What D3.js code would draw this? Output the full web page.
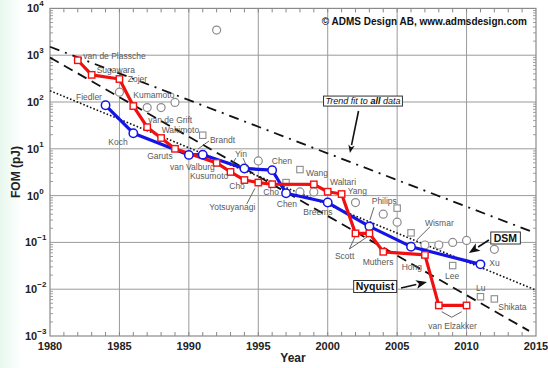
<!DOCTYPE html>
<html>
<head>
<meta charset="utf-8">
<script src="https://cdn.jsdelivr.net/npm/d3@7"></script>
<style>
  body { margin: 0; background: #fff; }
  svg { display: block; font-family: "Liberation Sans", Arial, Helvetica, sans-serif; }
</style>
</head>
<body>
<div id="chart"></div>
<script>
// ---- data (year, FOM in pJ) ----
var nyquistYears = [1982, 1983, 1985, 1986, 1987, 1988, 1989, 1992, 1993, 1994, 1995, 1996, 1999, 2000, 2001, 2002, 2003, 2004, 2007, 2008, 2010];
var nyquistFom   = [780, 380, 310, 82, 29, 17, 10, 5.0, 3.2, 2.15, 1.9, 1.75, 1.74, 1.21, 1.08, 0.156, 0.156, 0.063, 0.054, 0.0045, 0.0045];

var dsmYears = [1984, 1986, 1990, 1991, 1994, 1996, 1997, 2000, 2003, 2006, 2011];
var dsmFom   = [85, 21.5, 7.4, 7.5, 3.8, 3.5, 1.12, 0.71, 0.22, 0.081, 0.034];

var otherCircleYears = [1985, 1987, 1988, 1989, 1992, 1995, 1998, 1999, 2002, 2004, 2005, 2007, 2008, 2009, 2010, 2012];
var otherCircleFom   = [162, 76, 76, 98, 3450, 5.5, 1.2, 1.2, 0.71, 0.40, 0.27, 0.088, 0.088, 0.10, 0.11, 0.071];

var otherSquareYears = [1991, 1997, 1998, 2005, 2006, 2009, 2011, 2012];
var otherSquareFom   = [19.5, 1.9, 3.6, 0.54, 0.16, 0.032, 0.0069, 0.0062];

// trend lines: [year, FOM] end points
var trendAll     = [[1980, Math.pow(10, 3.18)], [2014.6, Math.pow(10, -0.76)]];
var trendNyquist = [[1980, Math.pow(10, 2.95)], [2014.5, Math.pow(10, -2.89)]];
var trendDsm     = [[1980, Math.pow(10, 2.24)], [2015, Math.pow(10, -2.02)]];

var xTicks = [1980, 1985, 1990, 1995, 2000, 2005, 2010, 2015];
var yExps  = [-3, -2, -1, 0, 1, 2, 3, 4];

// labels: [text, year, log10(FOM)] (baseline-left)
var labels = [
  ["van de Plassche", 1982.40, 2.925], ["Sugawara", 1983.36, 2.62], ["Zojer", 1985.60, 2.427],
  ["Fiedler", 1981.87, 2.049], ["Kumamoto", 1986.0, 2.085], ["van de Grift", 1987.08, 1.551],
  ["Wakimoto", 1988.04, 1.338], ["Koch", 1984.2, 1.071], ["Garuts", 1987.0, 0.788],
  ["van Valburg", 1988.64, 0.553], ["Kusumoto", 1990.08, 0.361], ["Brandt", 1991.52, 1.124],
  ["Yin", 1993.32, 0.825], ["Chen", 1995.97, 0.675], ["Wang", 1998.44, 0.412],
  ["Waltari", 2000.16, 0.22], ["Yang", 2001.44, 0.041], ["Cho", 1992.91, 0.141],
  ["Cho", 1995.36, 0.006], ["Yotsuyanagi", 1991.47, -0.314], ["Chen", 1996.33, -0.244],
  ["Breems", 1998.24, -0.408], ["Philips", 2003.17, -0.173], ["Wismar", 2007.0, -0.643],
  ["Scott", 2000.52, -1.348], ["Muthers", 2002.52, -1.476], ["Hong", 2005.33, -1.583],
  ["Lee", 2008.45, -1.782], ["Xu", 2011.64, -1.498], ["Lu", 2010.68, -2.045],
  ["Shikata", 2012.28, -2.451], ["van Elzakker", 2007.24, -2.85]
];

// leader lines: polylines of [year, log10(FOM)]
var leaders = [
  [[1990.66, 0.996], [1991.45, 1.167]],
  [[1993.39, 0.803], [1993.03, 0.632]],
  [[1993.90, 0.803], [1994.19, 0.611]],
  [[1994.17, -0.179], [1994.76, 0.156]],
  [[2003.04, -0.521], [2003.33, -0.25]],
  [[2007.37, -0.665], [2006.41, -0.949]],
  [[2001.96, -0.885], [2001.56, -1.141], [2002.83, -0.885]],
  [[2008.21, -2.481], [2008.93, -2.6], [2009.65, -2.481]]
];

// arrows: [tail, head] in [year, log10(FOM)], head length
var arrows = [
  [[2002.22, 1.808], [2001.60, 0.91], 8],
  [[2011.61, -0.949], [2010.17, -1.226], 11],
  [[2005.28, -1.974], [2007.15, -1.846], 11]
];

var W = 548, H = 368;
var margin = { top: 8.4, right: 12, bottom: 32, left: 50 };
var width = 486, height = 327.6;

var svg = d3.select("#chart").append("svg")
  .attr("width", W).attr("height", H);

// faint tint on the left edge like the source scan
var grad = svg.append("defs").append("linearGradient").attr("id", "edge");
grad.append("stop").attr("offset", "0%").attr("stop-color", "#e8f8ee");
grad.append("stop").attr("offset", "100%").attr("stop-color", "#ffffff");
svg.append("rect").attr("x", 0).attr("y", 0).attr("width", 22).attr("height", H).attr("fill", "url(#edge)");

var g = svg.append("g").attr("transform", "translate(" + margin.left + "," + margin.top + ")");

var x = d3.scaleLinear().domain([1980, 2015]).range([0, width]);
var y = d3.scaleLog().domain([1e-3, 1e4]).range([height, 0]);
var ye = function (e) { return y(Math.pow(10, e)); };

// grid
g.selectAll(".vgrid").data(xTicks.slice(1, -1)).enter().append("line")
  .attr("x1", x).attr("x2", x).attr("y1", 0).attr("y2", height)
  .attr("stroke", "#9a9a9a").attr("stroke-width", 1);
g.selectAll(".hgrid").data(yExps.slice(1, -1)).enter().append("line")
  .attr("y1", ye).attr("y2", ye).attr("x1", 0).attr("x2", width)
  .attr("stroke", "#9a9a9a").attr("stroke-width", 1);

// minor ticks (inside, all four sides)
var years = d3.range(1981, 2015);
var tickCol = "#888";
[0, height].forEach(function (yy, k) {
  g.selectAll(".xt" + k).data(years).enter().append("line")
    .attr("x1", x).attr("x2", x)
    .attr("y1", yy).attr("y2", k ? yy - 4 : yy + 4)
    .attr("stroke", tickCol).attr("stroke-width", 1);
});
var minorY = [];
for (var e = -3; e < 4; e++) for (var m = 2; m < 10; m++) minorY.push(m * Math.pow(10, e));
[0, width].forEach(function (xx, k) {
  g.selectAll(".yt" + k).data(minorY).enter().append("line")
    .attr("y1", y).attr("y2", y)
    .attr("x1", xx).attr("x2", k ? xx - 3 : xx + 3)
    .attr("stroke", tickCol).attr("stroke-width", 0.8);
});

// frame
g.append("rect").attr("width", width).attr("height", height)
  .attr("fill", "none").attr("stroke", "#8a8a8a").attr("stroke-width", 1.2);

// axes labels
g.selectAll(".xl").data(xTicks).enter().append("text")
  .attr("x", x).attr("y", height + 14.5)
  .attr("text-anchor", "middle").attr("font-size", 11).attr("font-weight", "bold")
  .attr("fill", "#222").text(function (d) { return d; });

var yl = g.selectAll(".yl").data(yExps).enter().append("text")
  .attr("y", function (d) { return ye(d) + 4; })
  .attr("font-size", 11).attr("font-weight", "bold").attr("fill", "#222");
yl.append("tspan").text("10");
yl.append("tspan").attr("dy", -6).attr("font-size", 8).text(function (d) { return d < 0 ? "\u2212" + (-d) : d; });
yl.attr("text-anchor", "start").attr("x", function (d) { return d < 0 ? -25 : -23; });

svg.append("text").attr("x", 293).attr("y", 362)
  .attr("text-anchor", "middle").attr("font-size", 12).attr("font-weight", "bold").attr("fill", "#222")
  .text("Year");
svg.append("text").attr("transform", "translate(20,172) rotate(-90)")
  .attr("text-anchor", "middle").attr("font-size", 12).attr("font-weight", "bold").attr("fill", "#222")
  .text("FOM (pJ)");

// trend lines
var line = d3.line().x(function (d) { return x(d[0]); }).y(function (d) { return y(d[1]); });
g.append("path").attr("d", line(trendAll)).attr("fill", "none")
  .attr("stroke", "#111").attr("stroke-width", 1.8).attr("stroke-dasharray", "10,6,2,6");
g.append("path").attr("d", line(trendNyquist)).attr("fill", "none")
  .attr("stroke", "#111").attr("stroke-width", 1.8).attr("stroke-dasharray", "10,6");
g.append("path").attr("d", line(trendDsm)).attr("fill", "none")
  .attr("stroke", "#111").attr("stroke-width", 1.6).attr("stroke-dasharray", "1.6,2");

// other publications (gray)
g.selectAll(".oc").data(d3.range(otherCircleYears.length)).enter().append("circle")
  .attr("cx", function (i) { return x(otherCircleYears[i]); })
  .attr("cy", function (i) { return y(otherCircleFom[i]); })
  .attr("r", 4).attr("fill", "#fff").attr("stroke", "#8c8c8c").attr("stroke-width", 1.2);
g.selectAll(".os").data(d3.range(otherSquareYears.length)).enter().append("rect")
  .attr("x", function (i) { return x(otherSquareYears[i]) - 3.2; })
  .attr("y", function (i) { return y(otherSquareFom[i]) - 3.2; })
  .attr("width", 6.4).attr("height", 6.4)
  .attr("fill", "#fff").attr("stroke", "#8c8c8c").attr("stroke-width", 1.1);

// DSM (blue) and Nyquist (red) state-of-the-art
var nyq = nyquistYears.map(function (d, i) { return [d, nyquistFom[i]]; });
var dsm = dsmYears.map(function (d, i) { return [d, dsmFom[i]]; });

g.append("path").attr("d", line(dsm)).attr("fill", "none")
  .attr("stroke", "#1414e6").attr("stroke-width", 3.2).attr("stroke-linejoin", "round");
g.append("path").attr("d", line(nyq)).attr("fill", "none")
  .attr("stroke", "#f01010").attr("stroke-width", 3.2).attr("stroke-linejoin", "round");

g.selectAll(".dp").data(dsm).enter().append("circle")
  .attr("cx", function (d) { return x(d[0]); }).attr("cy", function (d) { return y(d[1]); })
  .attr("r", 4.2).attr("fill", "#fff").attr("stroke", "#1414e6").attr("stroke-width", 1.5);
g.selectAll(".np").data(nyq).enter().append("rect")
  .attr("x", function (d) { return x(d[0]) - 3.2; }).attr("y", function (d) { return y(d[1]) - 3.2; })
  .attr("width", 6.4).attr("height", 6.4)
  .attr("fill", "#fff").attr("stroke", "#f01010").attr("stroke-width", 1.4);

// leader lines
var lline = d3.line().x(function (d) { return x(d[0]); }).y(function (d) { return ye(d[1]); });
g.selectAll(".ld").data(leaders).enter().append("path")
  .attr("d", lline).attr("fill", "none").attr("stroke", "#555").attr("stroke-width", 0.9);

// author labels
g.selectAll(".lab").data(labels).enter().append("text")
  .attr("x", function (d) { return x(d[1]); }).attr("y", function (d) { return ye(d[2]); })
  .attr("font-size", 8.5).attr("fill", "#5a5a5a").text(function (d) { return d[0]; });

// arrows
arrows.forEach(function (a) {
  var x0 = x(a[0][0]), y0 = ye(a[0][1]), x1 = x(a[1][0]), y1 = ye(a[1][1]), L = a[2];
  var ang = Math.atan2(y1 - y0, x1 - x0);
  var bx = x1 - L * Math.cos(ang), by = y1 - L * Math.sin(ang);
  var w = L * 0.4;
  g.append("line").attr("x1", x0).attr("y1", y0).attr("x2", bx).attr("y2", by)
    .attr("stroke", "#111").attr("stroke-width", 1.6);
  g.append("path").attr("fill", "#111")
    .attr("d", "M" + x1 + "," + y1 +
      "L" + (bx + w * Math.sin(ang)) + "," + (by - w * Math.cos(ang)) +
      "L" + (bx + L * 0.25 * Math.cos(ang)) + "," + (by + L * 0.25 * Math.sin(ang)) +
      "L" + (bx - w * Math.sin(ang)) + "," + (by + w * Math.cos(ang)) + "Z");
});

// boxed notes
function boxNote(cx, cy, build, size, padX, padY) {
  var t = g.append("text").attr("x", cx).attr("y", cy)
    .attr("text-anchor", "middle").attr("dominant-baseline", "central")
    .attr("font-size", size).attr("fill", "#111");
  build(t);
  var bb = t.node().getBBox();
  g.insert("rect", function () { return t.node(); })
    .attr("x", bb.x - padX).attr("y", bb.y - padY)
    .attr("width", bb.width + 2 * padX).attr("height", bb.height + 2 * padY)
    .attr("fill", "#fff").attr("stroke", "#333").attr("stroke-width", 1);
}
boxNote(x(2002.54), ye(2.02), function (t) {
  t.attr("font-style", "italic");
  t.append("tspan").text("Trend fit to ");
  t.append("tspan").attr("font-weight", "bold").text("all");
  t.append("tspan").text(" data");
}, 9, 2, 0);
boxNote(x(2012.8), ye(-0.906), function (t) {
  t.attr("font-weight", "bold").text("DSM");
}, 10.5, 3, 0);
boxNote(x(2003.4), ye(-1.942), function (t) {
  t.attr("font-weight", "bold").text("Nyquist");
}, 10.5, 2, 0);

// copyright
g.append("text").attr("x", x(2014.35)).attr("y", ye(3.635))
  .attr("text-anchor", "end").attr("font-size", 10).attr("font-weight", "bold").attr("fill", "#111")
  .text("\u00a9 ADMS Design AB, www.admsdesign.com");
</script>
</body>
</html>
